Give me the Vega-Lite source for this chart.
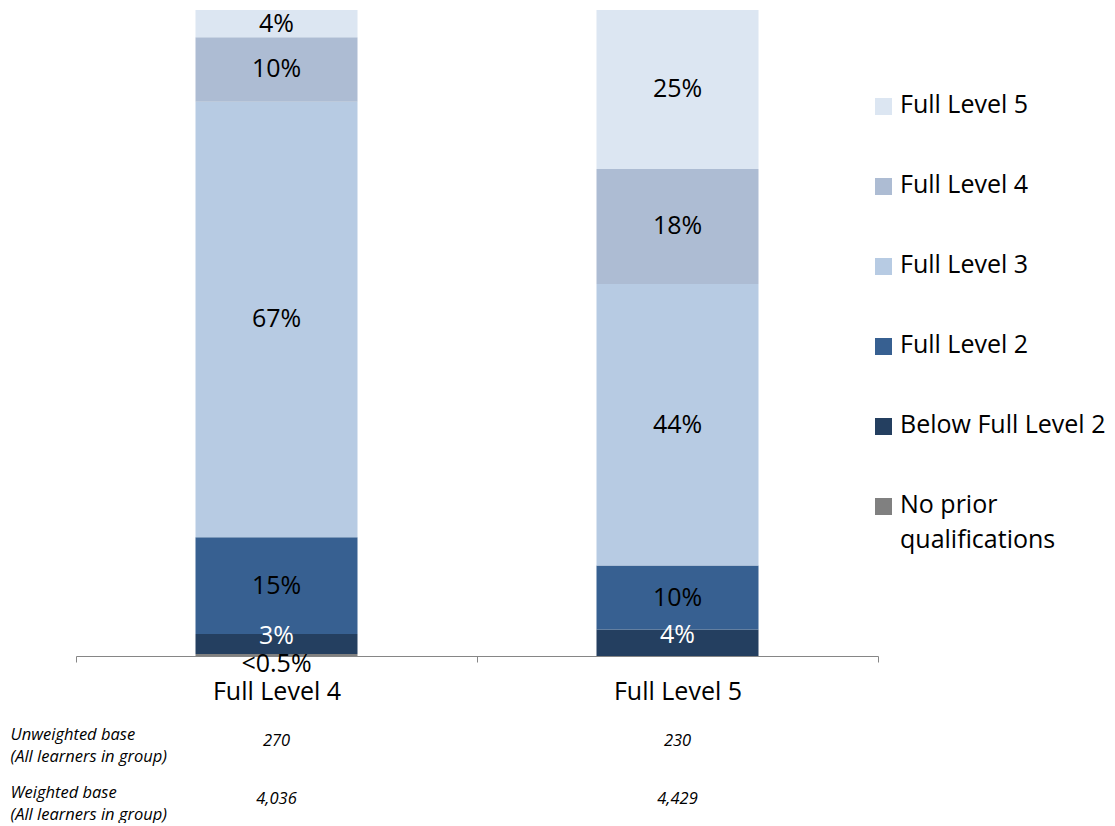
{
  "$schema": "https://vega.github.io/schema/vega-lite/v6.json",
  "background": "white",
  "padding": {"left": 10, "top": 10, "right": 0, "bottom": 0},
  "config": {
    "view": {"stroke": null},
    "font": "Open Sans",
    "concat": {"spacing": 1}
  },
  "datasets": {
    "shares": [
      {"group": "Full Level 4", "level": "No prior qualifications", "share": 0.003},
      {"group": "Full Level 4", "level": "Below Full Level 2", "share": 0.031},
      {"group": "Full Level 4", "level": "Full Level 2", "share": 0.150},
      {"group": "Full Level 4", "level": "Full Level 3", "share": 0.674},
      {"group": "Full Level 4", "level": "Full Level 4", "share": 0.100},
      {"group": "Full Level 4", "level": "Full Level 5", "share": 0.042},
      {"group": "Full Level 5", "level": "Below Full Level 2", "share": 0.041},
      {"group": "Full Level 5", "level": "Full Level 2", "share": 0.099},
      {"group": "Full Level 5", "level": "Full Level 3", "share": 0.436},
      {"group": "Full Level 5", "level": "Full Level 4", "share": 0.178},
      {"group": "Full Level 5", "level": "Full Level 5", "share": 0.246}
    ],
    "bases": [
      {"group": "Full Level 4", "measure": "Unweighted base|(All learners  in group)", "n": 270},
      {"group": "Full Level 5", "measure": "Unweighted base|(All learners  in group)", "n": 230},
      {"group": "Full Level 4", "measure": "Weighted base|(All learners  in group)", "n": 4036},
      {"group": "Full Level 5", "measure": "Weighted base|(All learners  in group)", "n": 4429}
    ]
  },
  "vconcat": [
    {
      "width": 802,
      "height": 646,
      "data": {"name": "shares"},
      "transform": [
        {"calculate": "indexof(['No prior qualifications', 'Below Full Level 2', 'Full Level 2', 'Full Level 3', 'Full Level 4', 'Full Level 5'], datum.level)", "as": "rank"},
        {"stack": "share", "groupby": ["group"], "sort": [{"field": "rank", "order": "ascending"}], "as": ["y0", "y1"]},
        {"calculate": "(datum.y0 + datum.y1) / 2", "as": "mid"},
        {"calculate": "datum.share < 0.005 ? '<0.5%' : format(datum.share, '.0%')", "as": "label"}
      ],
      "encoding": {
        "x": {
          "field": "group",
          "type": "nominal",
          "scale": {"paddingInner": 0, "paddingOuter": 0},
          "axis": {
            "title": null,
            "labelAngle": 0,
            "labelFont": "Open Sans",
            "labelFontSize": 25,
            "labelColor": "black",
            "labelPadding": 17,
            "domainColor": "#868686",
            "tickColor": "#868686",
            "tickSize": 6,
            "tickBand": "extent"
          }
        }
      },
      "layer": [
        {
          "mark": {"type": "bar", "width": {"band": 0.404}},
          "encoding": {
            "y": {"field": "y0", "type": "quantitative", "scale": {"domain": [0, 1]}, "axis": null},
            "y2": {"field": "y1"},
            "color": {
              "field": "level",
              "type": "nominal",
              "scale": {
                "domain": ["Full Level 5", "Full Level 4", "Full Level 3", "Full Level 2", "Below Full Level 2", "No prior qualifications"],
                "range": ["#dce6f2", "#adbcd3", "#b7cbe3", "#376091", "#243f60", "#808080"]
              },
              "legend": {
                "title": null,
                "orient": "none",
                "legendX": 795,
                "legendY": 84,
                "padding": 0,
                "symbolType": "square",
                "symbolSize": 289,
                "symbolStrokeWidth": 0,
                "labelFont": "Open Sans",
                "labelFontSize": 25,
                "labelColor": "black",
                "labelOffset": 4,
                "labelLimit": 300,
                "rowPadding": 54,
                "labelBaseline": "top",
                "labelLineHeight": 35,
                "labelExpr": "datum.label == 'No prior qualifications' ? ['No prior', 'qualifications'] : datum.label",
                "encode": {"labels": {"update": {"dy": {"value": -14}, "lineHeight": {"value": 35}}}}
              }
            }
          }
        },
        {
          "transform": [{"filter": "datum.share >= 0.005 && datum.level != 'Below Full Level 2'"}],
          "mark": {"type": "text", "fontSize": 25, "font": "Open Sans", "color": "black"},
          "encoding": {
            "y": {"field": "mid", "type": "quantitative"},
            "text": {"field": "label", "type": "nominal"}
          }
        },
        {
          "transform": [{"filter": "datum.level == 'Below Full Level 2'"}],
          "mark": {"type": "text", "fontSize": 25, "font": "Open Sans", "color": "white", "dy": -8},
          "encoding": {
            "y": {"field": "mid", "type": "quantitative"},
            "text": {"field": "label", "type": "nominal"}
          }
        },
        {
          "transform": [{"filter": "datum.share < 0.005"}],
          "mark": {"type": "text", "fontSize": 25, "font": "Open Sans", "dy": 8, "color": "black"},
          "encoding": {
            "y": {"field": "y0", "type": "quantitative"},
            "text": {"field": "label", "type": "nominal"}
          }
        }
      ]
    },
    {
      "width": 802,
      "height": 116,
      "data": {"name": "bases"},
      "mark": {"type": "text", "fontSize": 16.5, "fontStyle": "italic", "font": "Open Sans", "color": "black", "dy": 7},
      "encoding": {
        "x": {
          "field": "group",
          "type": "nominal",
          "scale": {"paddingInner": 0, "paddingOuter": 0},
          "axis": null
        },
        "y": {
          "field": "measure",
          "type": "nominal",
          "sort": null,
          "scale": {"type": "point", "padding": 0.5},
          "axis": {
            "title": null,
            "domain": false,
            "ticks": false,
            "labelAlign": "left",
            "labelPadding": 66,
            "labelFont": "Open Sans",
            "labelFontSize": 16.5,
            "labelFontStyle": "italic",
            "labelColor": "black",
            "labelLineHeight": 22,
            "labelLimit": 300,
            "labelExpr": "split(datum.label, '|')"
          }
        },
        "text": {"field": "n", "type": "quantitative", "format": ","}
      }
    }
  ]
}
